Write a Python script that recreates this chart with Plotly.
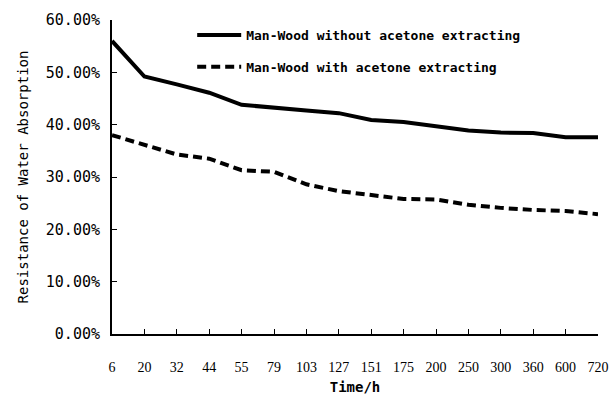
import plotly.graph_objects as go

times = ["6", "20", "32", "44", "55", "79", "103", "127", "151", "175", "200", "250", "300", "360", "600", "720"]
without_acetone = [0.560, 0.492, 0.477, 0.461, 0.438, 0.432, 0.427, 0.422, 0.409, 0.405, 0.397, 0.389, 0.385, 0.384, 0.376, 0.376]
with_acetone = [0.380, 0.362, 0.343, 0.335, 0.313, 0.310, 0.286, 0.273, 0.265, 0.258, 0.257, 0.247, 0.241, 0.237, 0.235, 0.229]
y_ticks = [0, 0.1, 0.2, 0.3, 0.4, 0.5, 0.6]

MONO = "DejaVu Sans Mono"

fig = go.Figure()
fig.add_trace(go.Scatter(
    x=times, y=without_acetone, mode="lines",
    name="<b>Man-Wood without acetone extracting</b>",
    line=dict(color="black", width=4), legendgroup="a"))
fig.add_trace(go.Scatter(
    x=times, y=with_acetone, mode="lines",
    name="<b>Man-Wood with acetone extracting</b>",
    line=dict(color="black", width=4, dash="9px,5px"), legendgroup="b"))

fig.update_layout(
    width=614, height=405,
    margin=dict(l=112, r=16, t=20, b=71, autoexpand=False),
    plot_bgcolor="white", paper_bgcolor="white",
    showlegend=True,
    legend=dict(x=0.165, y=1.0, xanchor="left", yanchor="top",
                bgcolor="rgba(0,0,0,0)", traceorder="grouped", tracegroupgap=12,
                font=dict(family=MONO, size=13, color="black"),
                itemwidth=44),
    font=dict(family=MONO, color="black"),
)
fig.update_xaxes(
    type="category", range=[0, len(times) - 1], automargin=False,
    showline=True, linecolor="black", linewidth=2,
    ticks="inside", ticklen=5, tickwidth=1, tickcolor="black",
    showgrid=False, zeroline=False,
    tickfont=dict(family="Liberation Serif", size=14, color="black"),
    ticklabelstandoff=19,
    title=dict(text="<b>Time/h</b>", font=dict(family=MONO, size=14), standoff=8),
)
fig.update_yaxes(
    range=[0, 0.6], tickvals=y_ticks, tickformat=".2%", automargin=False,
    showline=True, linecolor="black", linewidth=2,
    ticks="inside", ticklen=5, tickwidth=1, tickcolor="black",
    showgrid=False, zeroline=False,
    tickfont=dict(family=MONO, size=15, color="black"),
    ticklabelstandoff=7,
    title=dict(text="Resistance of Water Absorption", font=dict(family=MONO, size=14), standoff=14),
)

fig.write_html("out.html",
               config={"displayModeBar": False},
               post_script="document.body.style.margin='0';document.body.style.overflow='hidden';")
